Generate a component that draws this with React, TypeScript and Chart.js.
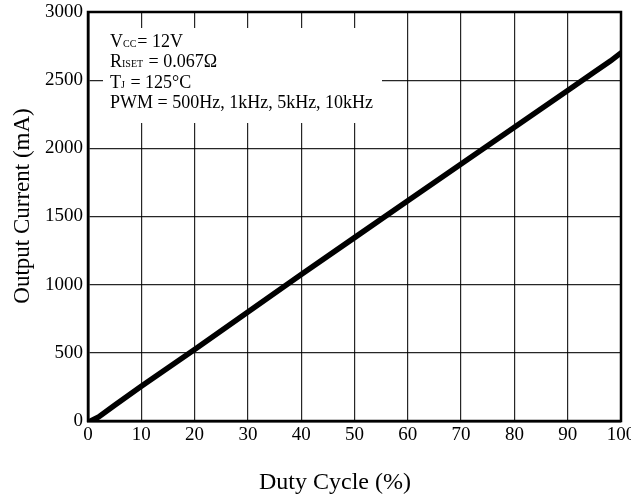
import React, { useEffect, useRef } from "react";
import { Chart, registerables } from "chart.js";

Chart.register(...registerables);

const dutyCycle = [0.5, 2, 5, 10, 20, 30, 40, 50, 60, 70, 80, 90, 95, 98, 100];
const outputCurrent = [0, 30, 115, 255, 525, 800, 1075, 1345, 1615, 1885, 2155, 2425, 2560, 2640, 2700];
const xTicks = [0, 10, 20, 30, 40, 50, 60, 70, 80, 90, 100];
const yTicks = [0, 500, 1000, 1500, 2000, 2500, 3000];
const xTitle = "Duty Cycle (%)";
const yTitle = "Output Current (mA)";
const noteLines: [string, string, string][] = [
  ["V", "CC", "= 12V"],
  ["R", "ISET", " = 0.067Ω"],
  ["T", "J", " = 125°C"],
  ["PWM = 500Hz, 1kHz, 5kHz, 10kHz", "", ""],
];

const FONT = "'Liberation Serif', 'Times New Roman', serif";

const overlayPlugin = {
  id: "overlay",
  afterDraw(chart: any) {
    const ctx = chart.ctx as CanvasRenderingContext2D;
    const ca = chart.chartArea;
    ctx.save();
    ctx.strokeStyle = "#000";
    ctx.lineWidth = 2.5;
    ctx.strokeRect(ca.left, ca.top, ca.right - ca.left, ca.bottom - ca.top);
    ctx.fillStyle = "#fff";
    ctx.fillRect(103, 28, 279, 95);
    ctx.fillStyle = "#000";
    ctx.textBaseline = "alphabetic";
    ctx.textAlign = "left";
    let y = 47;
    for (const [main, sub, rest] of noteLines) {
      let x = 110;
      ctx.font = `18px ${FONT}`;
      ctx.fillText(main, x, y);
      x += ctx.measureText(main).width;
      if (sub) {
        ctx.font = `10px ${FONT}`;
        ctx.fillText(sub, x, y);
        x += ctx.measureText(sub).width + 1;
        ctx.font = `18px ${FONT}`;
        ctx.fillText(rest, x, y);
      }
      y += 20.3;
    }
    ctx.font = `24px ${FONT}`;
    ctx.textAlign = "center";
    ctx.fillText(xTitle, 335, 489);
    ctx.save();
    ctx.translate(29, 206);
    ctx.rotate(-Math.PI / 2);
    ctx.font = `23px ${FONT}`;
    ctx.fillText(yTitle, 0, 0);
    ctx.restore();
    ctx.restore();
  },
};

export default function App() {
  const ref = useRef<HTMLCanvasElement>(null);
  useEffect(() => {
    if (!ref.current) return;
    const chart = new Chart(ref.current, {
      type: "line",
      data: {
        datasets: [
          {
            data: dutyCycle.map((d, i) => ({ x: d, y: outputCurrent[i] })),
            borderColor: "#000",
            borderWidth: 5.5,
            borderCapStyle: "round",
            pointRadius: 0,
            tension: 0,
            fill: false,
          },
        ],
      },
      options: {
        responsive: false,
        animation: false,
        layout: { padding: { top: 12, right: 10, left: 0, bottom: 0 } },
        plugins: { legend: { display: false }, tooltip: { enabled: false } },
        scales: {
          x: {
            type: "linear",
            min: 0,
            max: 100,
            afterBuildTicks: (s: any) => {
              s.ticks = xTicks.map((v) => ({ value: v }));
            },
            afterFit: (s: any) => {
              s.height = 77;
              s.paddingLeft = 0;
              s.paddingRight = 0;
            },
            ticks: {
              color: "#000",
              font: { family: FONT, size: 19 },
              padding: 3,
              maxRotation: 0,
              autoSkip: false,
              callback: (v: any) => String(v),
            },
            grid: { color: "rgba(0,0,0,0.85)", lineWidth: 1.2, drawTicks: false },
            border: { color: "#000", width: 2.5 },
          },
          y: {
            type: "linear",
            min: 0,
            max: 3000,
            afterBuildTicks: (s: any) => {
              s.ticks = yTicks.map((v) => ({ value: v }));
            },
            afterFit: (s: any) => {
              s.width = 88;
              s.paddingTop = 0;
              s.paddingBottom = 0;
            },
            ticks: {
              color: "#000",
              font: { family: FONT, size: 19 },
              padding: 5,
              autoSkip: false,
              callback: (v: any) => String(v),
            },
            grid: { color: "rgba(0,0,0,0.85)", lineWidth: 1.2, drawTicks: false },
            border: { color: "#000", width: 2.5 },
          },
        },
      },
      plugins: [overlayPlugin],
    } as any);
    return () => chart.destroy();
  }, []);
  return (
    <canvas
      ref={ref}
      width={631}
      height={498}
      style={{ position: "absolute", left: 0, top: 0, display: "block", background: "#fff" }}
    />
  );
}
